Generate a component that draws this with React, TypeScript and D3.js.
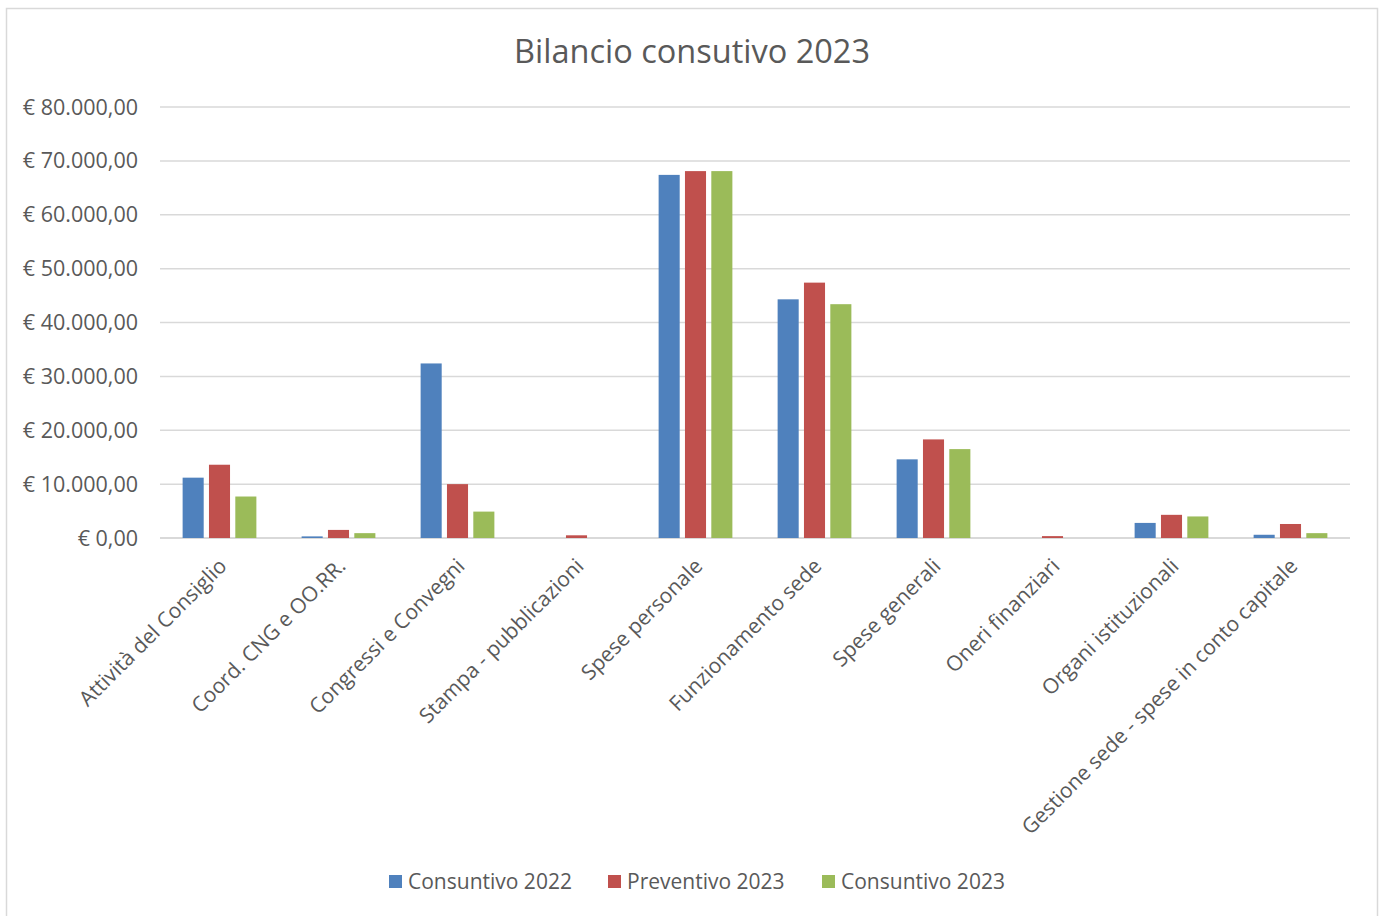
import React, { useEffect, useRef } from "react";
import * as d3 from "d3";

const categories = [
  "Attività del Consiglio",
  "Coord. CNG e OO.RR.",
  "Congressi e Convegni",
  "Stampa - pubblicazioni",
  "Spese personale",
  "Funzionamento sede",
  "Spese generali",
  "Oneri finanziari",
  "Organi istituzionali",
  "Gestione sede - spese in conto capitale",
];

const seriesNames = ["Consuntivo 2022", "Preventivo 2023", "Consuntivo 2023"];

const consuntivo2022 = [11200, 300, 32400, 0, 67400, 44300, 14600, 0, 2800, 600];
const preventivo2023 = [13600, 1500, 10000, 500, 68100, 47400, 18300, 350, 4300, 2600];
const consuntivo2023 = [7700, 900, 4900, 0, 68100, 43400, 16500, 0, 4000, 900];

const yTicks = [0, 10000, 20000, 30000, 40000, 50000, 60000, 70000, 80000];

const colors = ["#4f81bd", "#c0504d", "#9bbb59"];

const FONT = "'Open Sans', Lato, sans-serif";

const App: React.FC = () => {
  const svgRef = useRef<SVGSVGElement | null>(null);

  useEffect(() => {
    if (!svgRef.current) return;
    const width = 1384;
    const height = 916;
    const margin = { top: 107, right: 34, bottom: 378, left: 160 };
    const innerW = width - margin.left - margin.right;
    const innerH = height - margin.top - margin.bottom;

    const root = d3.select(svgRef.current);
    root.selectAll("*").remove();
    root.attr("width", width).attr("height", height).style("font-family", FONT);

    root.append("rect")
      .attr("x", 0).attr("y", 0).attr("width", width).attr("height", height)
      .attr("fill", "#fff");
    // chart frame
    root.append("rect")
      .attr("x", 6.5).attr("y", 8.5).attr("width", 1371).attr("height", 920)
      .attr("fill", "none").attr("stroke", "#d9d9d9").attr("stroke-width", 1.5);

    root.append("text")
      .attr("x", 692).attr("y", 63)
      .attr("text-anchor", "middle")
      .attr("font-size", 32.5)
      .attr("fill", "#595959")
      .text("Bilancio consutivo 2023");

    const g = root.append("g").attr("transform", `translate(${margin.left},${margin.top})`);

    const x0 = d3.scaleBand<string>()
      .domain(categories)
      .range([0, innerW])
      .paddingInner(0.336)
      .paddingOuter(0.168);

    const x1 = d3.scaleBand<number>()
      .domain([0, 1, 2])
      .range([0, x0.bandwidth()])
      .paddingInner(0.2)
      .paddingOuter(0.1);

    const y = d3.scaleLinear().domain([0, 80000]).range([innerH, 0]);

    const locale = d3.formatLocale({
      decimal: ",",
      thousands: ".",
      grouping: [3],
      currency: ["€ ", ""],
    });
    const fmt = locale.format("$,.2f");

    // gridlines
    g.append("g")
      .selectAll("line")
      .data(yTicks)
      .join("line")
      .attr("x1", 0).attr("x2", innerW)
      .attr("y1", (d) => y(d)).attr("y2", (d) => y(d))
      .attr("stroke", "#d9d9d9")
      .attr("stroke-width", (d) => (d === 0 ? 2 : 1.5));

    // y labels
    g.append("g")
      .selectAll("text")
      .data(yTicks)
      .join("text")
      .attr("x", -22)
      .attr("y", (d) => y(d))
      .attr("dy", "0.35em")
      .attr("text-anchor", "end")
      .attr("font-size", 21.5)
      .attr("fill", "#595959")
      .text((d) => fmt(d));

    const seriesValues = [consuntivo2022, preventivo2023, consuntivo2023];

    const groups = g.selectAll(".cat")
      .data(categories)
      .join("g")
      .attr("class", "cat")
      .attr("transform", (d) => `translate(${x0(d)},0)`);

    groups.selectAll("rect")
      .data((_, i) => seriesValues.map((vals, s) => ({ s, v: vals[i] })))
      .join("rect")
      .attr("x", (d) => x1(d.s)!)
      .attr("width", x1.bandwidth())
      .attr("y", (d) => y(d.v))
      .attr("height", (d) => innerH - y(d.v))
      .attr("fill", (d) => colors[d.s]);

    // category labels
    g.append("g")
      .selectAll("text")
      .data(categories)
      .join("text")
      .attr("transform", (d) => `translate(${x0(d)! + x0.bandwidth() / 2 - 2},${innerH + 19}) rotate(-45)`)
      .attr("text-anchor", "end")
      .attr("dy", "0.7em")
      .attr("font-size", 21)
      .attr("fill", "#595959")
      .text((d) => d);

    // legend
    const legendX = [389, 608, 822];
    const legend = root.append("g");
    seriesNames.forEach((name, i) => {
      legend.append("rect")
        .attr("x", legendX[i]).attr("y", 875)
        .attr("width", 13).attr("height", 13)
        .attr("fill", colors[i]);
      legend.append("text")
        .attr("x", legendX[i] + 19).attr("y", 889)
        .attr("font-size", 21)
        .attr("fill", "#595959")
        .text(name);
    });
  }, []);

  return (
    <svg
      ref={svgRef}
      style={{ position: "absolute", left: 0, top: 0, display: "block" }}
    ></svg>
  );
};

export default App;
